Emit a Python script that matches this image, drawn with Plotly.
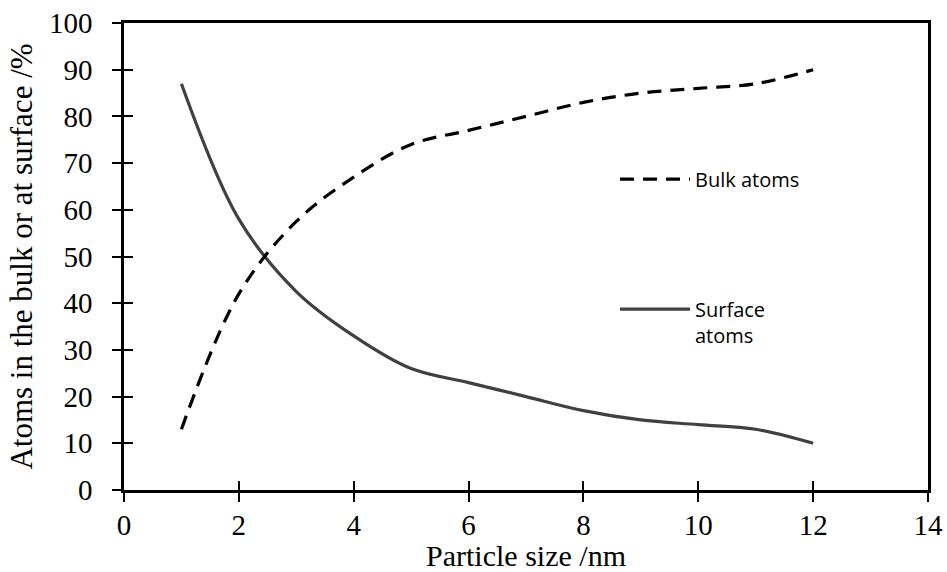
import plotly.graph_objects as go

particle_size = [1, 2, 3, 4, 5, 6, 7, 8, 9, 10, 11, 12]
surface_atoms = [87, 58, 42.5, 33, 26, 23, 20, 17, 15, 14, 13, 10]
bulk_atoms = [13, 42, 57.5, 67, 74, 77, 80, 83, 85, 86, 87, 90]
x_ticks = [0, 2, 4, 6, 8, 10, 12, 14]
y_ticks = [0, 10, 20, 30, 40, 50, 60, 70, 80, 90, 100]

serif = "Liberation Serif"
sans = "Open Sans"

fig = go.Figure()
fig.add_trace(go.Scatter(
    x=particle_size, y=bulk_atoms, mode="lines", name="Bulk atoms",
    line=dict(color="#000000", width=3.2, dash="14px,9px", shape="spline", smoothing=1),
    xaxis="x2", yaxis="y2", legend="legend",
))
fig.add_trace(go.Scatter(
    x=particle_size, y=surface_atoms, mode="lines", name="Surface<br>atoms",
    line=dict(color="#404040", width=3.2, shape="spline", smoothing=1),
    xaxis="x", yaxis="y", legend="legend2",
))

axis_common = dict(showgrid=False, zeroline=False, showline=True, linecolor="#000",
                   linewidth=2.6, mirror=True, ticks="outside", ticklen=9,
                   tickwidth=2.4, tickcolor="#000", automargin=False,
                   tickfont=dict(family=serif, size=29, color="#000"))
overlay_common = dict(showticklabels=False, ticks="inside", ticklen=9, tickwidth=2.4,
                      tickcolor="#000", showgrid=False, zeroline=False, showline=False,
                      automargin=False)

fig.update_layout(
    width=947, height=572,
    margin=dict(l=124, r=19, t=23, b=82),
    paper_bgcolor="#fff", plot_bgcolor="#fff",
    xaxis=dict(range=[0, 14], tickvals=x_ticks, ticklabelstandoff=-2,
               title=dict(text="Particle size /nm", font=dict(family=serif, size=30, color="#000"), standoff=13),
               **axis_common),
    yaxis=dict(range=[0, 100], tickvals=y_ticks, ticklabelstandoff=14,
               title=dict(text="Atoms in the bulk or at surface /%", font=dict(family=serif, size=31, color="#000"), standoff=8),
               **axis_common),
    xaxis2=dict(overlaying="x", anchor="y2", side="bottom", range=[0, 14], tickvals=x_ticks, **overlay_common),
    yaxis2=dict(overlaying="y", anchor="x2", side="left", range=[0, 100], tickvals=y_ticks, **overlay_common),
    legend=dict(x=(615 - 124) / 804, y=(490.3 - 160) / 467, xanchor="left", yanchor="top",
                itemwidth=70, bgcolor="rgba(0,0,0,0)", font=dict(family=sans, size=20, color="#000")),
    legend2=dict(x=(615 - 124) / 804, y=(490.3 - 290) / 467, xanchor="left", yanchor="top",
                 itemwidth=70, valign="top", bgcolor="rgba(0,0,0,0)", font=dict(family=sans, size=20, color="#000")),
    showlegend=True,
)

fig.write_html("out.html")
